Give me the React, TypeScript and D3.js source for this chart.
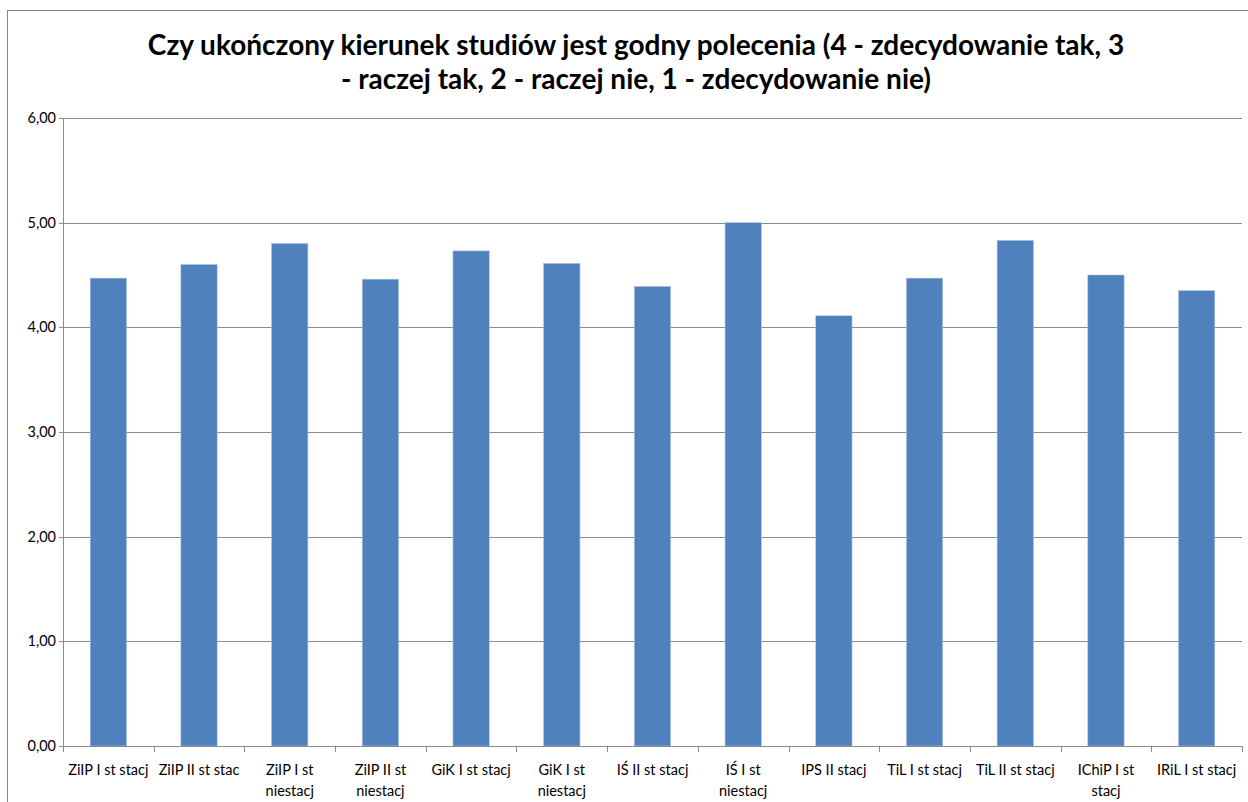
import React from "react";
import * as d3 from "d3";

// Category labels (line breaks where the label wraps under its bar)
const categories: string[] = [
  "ZiIP I st stacj",
  "ZiIP II st stac",
  "ZiIP I st\nniestacj",
  "ZiIP II st\nniestacj",
  "GiK I st stacj",
  "GiK I st\nniestacj",
  "IŚ II st stacj",
  "IŚ I st\nniestacj",
  "IPS II stacj",
  "TiL I st stacj",
  "TiL II st stacj",
  "IChiP I st\nstacj",
  "IRiL I st stacj",
];

// Mean rating for each field of study
const values: number[] = [4.47, 4.6, 4.8, 4.46, 4.73, 4.61, 4.39, 5.0, 4.11, 4.47, 4.83, 4.5, 4.35];

const yTicks: number[] = [0, 1, 2, 3, 4, 5, 6];

const titleLines: string[] = [
  "Czy ukończony kierunek studiów jest godny polecenia (4 - zdecydowanie tak, 3",
  "- raczej tak, 2 - raczej nie, 1 - zdecydowanie nie)",
];

const W = 1248;
const H = 802;
const plot = { left: 63, right: 1242, top: 118, bottom: 746 };
const FONT = "Lato, 'Open Sans', sans-serif";

export default function App() {
  const x = d3
    .scaleBand<string>()
    .domain(categories)
    .range([plot.left, plot.right])
    .paddingInner(0.6)
    .paddingOuter(0.3);
  const band = d3.scaleBand<string>().domain(categories).range([plot.left, plot.right]);
  const y = d3.scaleLinear().domain([0, 6]).range([plot.bottom, plot.top]);
  const fmt = (v: number) => v.toFixed(2).replace(".", ",");
  const crisp = (v: number) => Math.round(v) + 0.5;

  return (
    <svg
      width={W}
      height={H}
      style={{ position: "absolute", left: 0, top: 0, background: "#fff" }}
    >
      <rect x={7.5} y={10.5} width={1260} height={800} fill="#fff" stroke="#868686" strokeWidth={1} />

      {titleLines.map((t, i) => (
        <text
          key={i}
          x={636}
          y={55 + i * 34}
          textAnchor="middle"
          fontFamily={FONT}
          fontWeight={700}
          fontSize={28}
          fill="#000"
        >
          {t}
        </text>
      ))}

      {/* horizontal gridlines */}
      {yTicks.map((t) => (
        <line
          key={"g" + t}
          x1={plot.left - 4}
          x2={plot.right}
          y1={crisp(y(t))}
          y2={crisp(y(t))}
          stroke="#8c8c8c"
          strokeWidth={1}
        />
      ))}
      {yTicks.map((t) => (
        <text
          key={"yl" + t}
          x={56}
          y={y(t)}
          dy="0.35em"
          textAnchor="end"
          fontFamily={FONT}
          fontSize={14.5}
          fill="#000"
        >
          {fmt(t)}
        </text>
      ))}

      {/* bars */}
      {categories.map((c, i) => (
        <rect
          key={"b" + i}
          x={x(c)}
          y={y(values[i])}
          width={x.bandwidth()}
          height={y(0) - y(values[i])}
          fill="#4f81bd"
          stroke="#a7c0de"
          strokeWidth={0.6}
        />
      ))}

      {/* axes */}
      <line x1={crisp(plot.left)} x2={crisp(plot.left)} y1={plot.top} y2={plot.bottom} stroke="#8c8c8c" />
      <line x1={plot.left} x2={plot.right} y1={crisp(plot.bottom)} y2={crisp(plot.bottom)} stroke="#8c8c8c" />
      {[...categories.map((c) => band(c) as number), plot.right].map((v, i) => (
        <line
          key={"t" + i}
          x1={crisp(v)}
          x2={crisp(v)}
          y1={plot.bottom}
          y2={plot.bottom + 6}
          stroke="#8c8c8c"
        />
      ))}

      {categories.map((c, i) => {
        const cx = (band(c) as number) + band.bandwidth() / 2;
        return (
          <text
            key={"xl" + i}
            x={cx}
            y={775}
            textAnchor="middle"
            fontFamily={FONT}
            fontSize={14.5}
            fill="#000"
          >
            {c.split("\n").map((line, j) => (
              <tspan key={j} x={cx} dy={j === 0 ? 0 : 21}>
                {line}
              </tspan>
            ))}
          </text>
        );
      })}
    </svg>
  );
}
